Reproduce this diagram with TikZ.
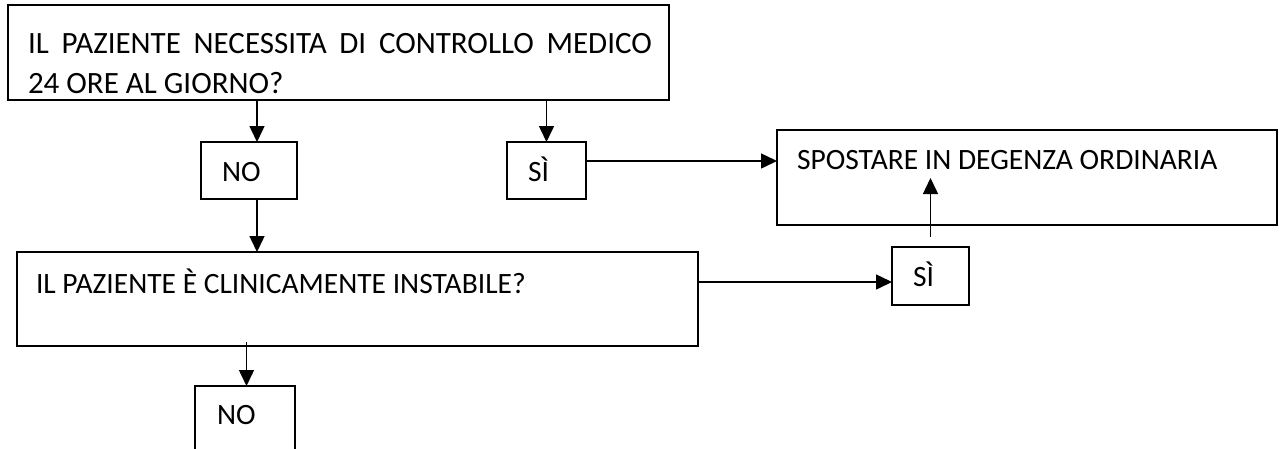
\documentclass[tikz,border=0pt]{standalone}
\usepackage{fontspec}
\setmainfont{Carlito}
\usetikzlibrary{arrows.meta}
\tikzset{
  box/.style={draw=black, line width=1.8pt, rectangle, inner sep=0pt, outer sep=0pt, anchor=north west},
  txt/.style={inner sep=0pt, outer sep=0pt, anchor=base west, font=\fontsize{29.5}{35}\selectfont},
  bigtxt/.style={txt, font=\fontsize{31}{37}\selectfont},
  arr/.style={draw=black, line width=1.5pt, -{Triangle[length=16pt,width=15pt]}},
}
\begin{document}
\begin{tikzpicture}[x=1pt,y=-1pt]
\useasboundingbox (0,0) rectangle (1283,448);
\clip (0,0) rectangle (1283,448);
% boxes
\node[box, minimum width=661pt, minimum height=95pt] (box1) at (8,5) {};
\node[box, minimum width=96pt, minimum height=57pt] (no1) at (201,142) {};
\node[box, minimum width=79pt, minimum height=57pt] (si1) at (507,142) {};
\node[box, minimum width=500pt, minimum height=95pt] (sp) at (777,130) {};
\node[box, minimum width=681pt, minimum height=94pt] (box2) at (17,252) {};
\node[box, minimum width=77pt, minimum height=58pt] (si2) at (892,247) {};
\node[box, minimum width=100pt, minimum height=80pt] (no2) at (195,386) {};
% texts
\node[bigtxt] (t1a) at (28,53) {\makebox[624pt][s]{IL PAZIENTE NECESSITA DI CONTROLLO MEDICO}};
\node[bigtxt] (t1b) at (28,93) {24 ORE AL GIORNO?};
\node[txt] (tno1) at (222,181) {NO};
\node[txt] (tsi1) at (528,181) {SÌ};
\node[txt] (tsp) at (797,169) {SPOSTARE IN DEGENZA ORDINARIA};
\node[txt] (t2) at (36,293) {IL PAZIENTE È CLINICAMENTE INSTABILE?};
\node[txt] (tsi2) at (913,286) {SÌ};
\node[txt] (tno2) at (217,424) {NO};
% connectors
\draw[arr] ([xshift=8pt]no1.north |- box1.south) -- ([xshift=8pt]no1.north);
\draw[arr] (si1.north |- box1.south) -- (si1.north);
\draw[arr] ([yshift=9.5pt]si1.east) coordinate (a1) -- (a1 -| sp.west);
\draw[arr] ([xshift=8pt]no1.south) -- ([xshift=8pt]no1.south |- box2.north);
\draw[arr] ([yshift=17pt]box2.east) coordinate (a2) -- (a2 -| si2.west);
\draw[arr] ([yshift=10pt]si2.north) -- ([yshift=-48pt]si2.north |- sp.north);
\draw[arr] ([xshift=1.5pt,yshift=4pt]no2.north |- box2.south) -- ([xshift=1.5pt]no2.north);
\end{tikzpicture}
\end{document}
